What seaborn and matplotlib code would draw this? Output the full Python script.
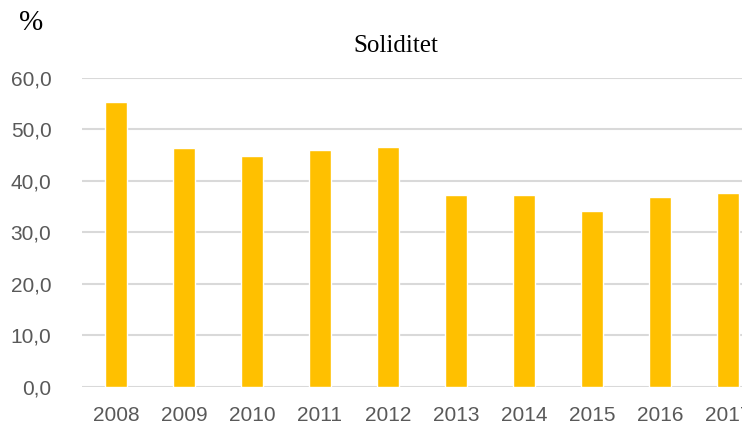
import matplotlib
matplotlib.use('Agg')
import matplotlib.pyplot as plt
import seaborn as sns
import pandas as pd

# Data
years = ['2008', '2009', '2010', '2011', '2012', '2013', '2014', '2015', '2016', '2017']
soliditet = [55.2, 46.4, 44.8, 46.0, 46.6, 37.3, 37.2, 34.2, 36.9, 37.6]

df = pd.DataFrame({'year': years, 'value': soliditet})

sns.set_style('white')
plt.rcParams['font.family'] = ['Liberation Sans', 'DejaVu Sans']

fig = plt.figure(figsize=(7.42, 4.26), dpi=100)
# plot area runs past the right edge, as in the reference
ax = fig.add_axes([82 / 742, 39.3 / 426, 680 / 742, 309 / 426])

sns.barplot(data=df, x='year', y='value', color='#FFC000', saturation=1,
            width=0.32, ax=ax, zorder=3)

ax.set_xlim(-0.5, 9.5)
ax.set_ylim(0, 60)
ax.set_yticks(range(0, 61, 10))
ax.set_yticklabels([f'{v},0' for v in range(0, 61, 10)])
ax.grid(axis='y', color='#d9d9d9', linewidth=1.5, zorder=0)
ax.set_axisbelow(True)
for s in ax.spines.values():
    s.set_visible(False)
ax.tick_params(axis='both', length=0, labelsize=15, labelcolor='#595959')
ax.tick_params(axis='y', pad=22)
ax.tick_params(axis='x', pad=14)
ax.set_xlabel('')
ax.set_ylabel('')

fig.text(396 / 742, 1 - 46 / 426, 'Soliditet', ha='center', va='center',
         fontsize=18, family=['Liberation Serif'], color='black')
fig.text(31 / 742, 1 - 23 / 426, '%', ha='center', va='center',
         fontsize=21, family=['Liberation Serif'], color='black')

fig.savefig('out.png', dpi=100)
